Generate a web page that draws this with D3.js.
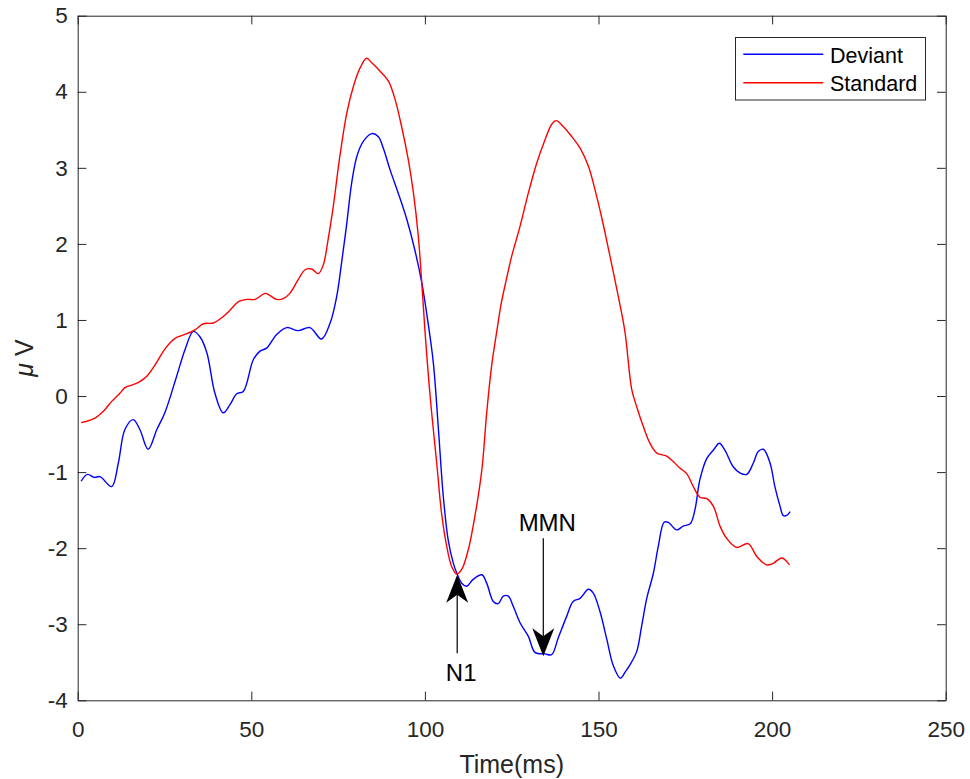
<!DOCTYPE html>
<html>
<head>
<meta charset="utf-8">
<script src="https://cdn.jsdelivr.net/npm/d3@7"></script>
<style>
  body { margin: 0; background: #fff; }
  svg { display: block; font-family: "Liberation Sans", Arial, sans-serif; }
</style>
</head>
<body>
<svg id="graph" width="970" height="779"></svg>
<script>
// Deviant (blue)
const devTime = [1.0, 2.8, 4.8, 6.4, 9.8, 11.7, 13.6, 16.0, 17.9, 20.3, 22.8, 25.1, 28.5, 30.9, 33.3, 35.2, 37.2, 39.5, 41.9, 43.9, 45.8, 47.7, 50.6, 52.5, 54.4, 57.3, 60.2, 63.5, 66.9, 70.2, 72.7, 74.6, 76.0, 77.5, 78.9, 80.4, 82.3, 84.7, 86.6, 88.0, 90.0, 92.3, 94.8, 97.1, 99.1, 100.5, 102.4, 103.9, 105.3, 106.7, 108.2, 109.2, 110.6, 112.0, 113.9, 116.4, 117.8, 119.7, 121.1, 122.6, 124.0, 125.5, 127.4, 129.8, 131.7, 134.6, 136.5, 138.4, 140.8, 142.7, 144.7, 147.1, 148.5, 150.4, 152.4, 154.3, 156.3, 157.8, 159.1, 161.0, 162.4, 163.9, 165.8, 167.2, 168.9, 170.1, 172.5, 174.4, 176.4, 177.8, 179.2, 181.2, 183.1, 184.8, 186.4, 188.8, 190.7, 192.7, 194.6, 196.0, 197.5, 199.4, 200.8, 202.3, 203.2, 204.2, 205.2];
const devValue = [-1.12, -1.03, -1.07, -1.06, -1.19, -0.88, -0.44, -0.31, -0.44, -0.70, -0.44, -0.22, 0.26, 0.61, 0.85, 0.78, 0.57, 0.04, -0.22, -0.11, 0.03, 0.06, 0.48, 0.59, 0.63, 0.81, 0.90, 0.86, 0.90, 0.75, 0.96, 1.31, 1.75, 2.27, 2.80, 3.15, 3.35, 3.45, 3.41, 3.26, 2.97, 2.67, 2.32, 1.92, 1.49, 1.09, 0.45, -0.44, -1.32, -1.89, -2.20, -2.33, -2.46, -2.50, -2.41, -2.35, -2.46, -2.70, -2.73, -2.63, -2.63, -2.77, -2.98, -3.16, -3.37, -3.39, -3.40, -3.18, -2.90, -2.70, -2.66, -2.54, -2.59, -2.83, -3.20, -3.55, -3.71, -3.62, -3.53, -3.36, -3.03, -2.66, -2.33, -1.98, -1.66, -1.66, -1.76, -1.71, -1.68, -1.49, -1.10, -0.82, -0.71, -0.62, -0.71, -0.93, -1.01, -1.03, -0.88, -0.73, -0.70, -0.88, -1.19, -1.45, -1.57, -1.57, -1.52];

// Standard (red)
const stdTime = [1.0, 5.0, 7.4, 9.8, 12.2, 13.6, 16.0, 17.9, 19.9, 22.3, 24.7, 26.6, 28.5, 30.9, 33.8, 36.2, 39.1, 41.5, 43.9, 46.3, 48.7, 51.1, 54.0, 55.4, 57.3, 59.2, 61.1, 63.5, 65.5, 67.4, 69.3, 70.7, 72.2, 73.6, 75.5, 77.5, 79.4, 81.3, 83.2, 84.7, 87.1, 89.5, 91.4, 93.3, 95.2, 96.7, 98.1, 99.1, 100.0, 101.5, 103.4, 104.8, 106.3, 107.7, 109.2, 110.6, 112.5, 114.4, 116.4, 117.8, 119.2, 120.7, 122.0, 123.4, 125.0, 127.4, 129.8, 132.2, 134.6, 136.5, 137.8, 139.9, 142.3, 144.7, 147.1, 149.0, 150.9, 153.3, 155.7, 157.6, 159.6, 161.0, 162.9, 164.8, 166.8, 169.6, 171.5, 173.5, 175.4, 177.3, 179.2, 181.2, 183.1, 185.0, 186.9, 189.8, 193.1, 195.6, 198.4, 200.3, 202.8, 205.0];
const stdValue = [-0.35, -0.29, -0.20, -0.07, 0.04, 0.11, 0.15, 0.19, 0.26, 0.41, 0.59, 0.70, 0.77, 0.81, 0.87, 0.95, 0.96, 1.03, 1.13, 1.24, 1.27, 1.27, 1.35, 1.32, 1.27, 1.28, 1.35, 1.53, 1.66, 1.67, 1.61, 1.72, 2.08, 2.49, 3.15, 3.72, 4.07, 4.31, 4.44, 4.38, 4.27, 4.14, 3.90, 3.54, 3.11, 2.67, 2.10, 1.49, 0.87, 0.00, -0.88, -1.54, -1.98, -2.24, -2.34, -2.28, -2.02, -1.58, -0.97, -0.22, 0.39, 0.85, 1.22, 1.52, 1.84, 2.23, 2.67, 3.06, 3.37, 3.57, 3.62, 3.54, 3.41, 3.26, 3.02, 2.71, 2.35, 1.84, 1.31, 0.85, 0.08, -0.14, -0.40, -0.62, -0.75, -0.79, -0.86, -0.95, -1.02, -1.19, -1.33, -1.35, -1.45, -1.71, -1.87, -1.99, -1.94, -2.11, -2.22, -2.20, -2.13, -2.22];

const xTicks = [0, 50, 100, 150, 200, 250];
const yTicks = [-4, -3, -2, -1, 0, 1, 2, 3, 4, 5];

// annotation arrows: time, tail value, tip value
const notes = [
  { label: "N1", t: 109.3, from: -3.38, to: -2.35 },
  { label: "MMN", t: 134.1, from: -1.87, to: -3.42 }
];

const axisColor = "#262626";
const margin = { top: 15.7, right: 24.3, bottom: 78.7, left: 77.7 };
const width = 970, height = 779;
const tick = 8.7;

const x = d3.scaleLinear().domain([0, 250]).range([margin.left, width - margin.right]);
const y = d3.scaleLinear().domain([-4, 5]).range([height - margin.bottom, margin.top]);

const svg = d3.select("#graph");

// axes (MATLAB box with inward ticks)
const styleAxis = (g) => {
  g.select(".domain").attr("stroke", axisColor).attr("stroke-width", 1);
  g.selectAll(".tick line").attr("stroke", axisColor);
  g.selectAll(".tick text").attr("fill", axisColor).attr("font-size", 22.5);
};
const plain = (d) => String(d);

svg.append("g")
  .attr("transform", `translate(0,${y(-4)})`)
  .call(d3.axisBottom(x).tickValues(xTicks).tickSizeInner(-tick).tickSizeOuter(0).tickPadding(21).tickFormat(plain))
  .call(styleAxis);

svg.append("g")
  .attr("transform", `translate(0,${y(5)})`)
  .call(d3.axisTop(x).tickValues(xTicks).tickSizeInner(-tick).tickSizeOuter(0).tickFormat(""))
  .call(styleAxis);

svg.append("g")
  .attr("transform", `translate(${x(0)},0)`)
  .call(d3.axisLeft(y).tickValues(yTicks).tickSizeInner(-tick).tickSizeOuter(0).tickPadding(10).tickFormat(plain))
  .call(styleAxis);

svg.append("g")
  .attr("transform", `translate(${x(250)},0)`)
  .call(d3.axisRight(y).tickValues(yTicks).tickSizeInner(-tick).tickSizeOuter(0).tickFormat(""))
  .call(styleAxis);

// axis labels
svg.append("text")
  .attr("x", (x(0) + x(250)) / 2)
  .attr("y", 773)
  .attr("text-anchor", "middle")
  .attr("font-size", 25)
  .attr("fill", axisColor)
  .text("Time(ms)");

const yl = svg.append("text")
  .attr("transform", `translate(33,${(y(5) + y(-4)) / 2}) rotate(-90)`)
  .attr("text-anchor", "middle")
  .attr("font-size", 25)
  .attr("fill", axisColor);
yl.append("tspan").attr("font-style", "italic").text("\u03bc");
yl.append("tspan").text(" V");

// lines
const line = d3.line()
  .x((d) => x(d[0]))
  .y((d) => y(d[1]))
  .curve(d3.curveCatmullRom.alpha(0.5));

const series = [
  { name: "Deviant", color: "#0000ff", pts: d3.zip(devTime, devValue) },
  { name: "Standard", color: "#ff0000", pts: d3.zip(stdTime, stdValue) }
];

svg.append("g")
  .selectAll("path")
  .data(series)
  .join("path")
  .attr("fill", "none")
  .attr("stroke", (d) => d.color)
  .attr("stroke-width", 1.4)
  .attr("d", (d) => line(d.pts));

// annotations
const headLen = 28, headHalf = 11, notch = 8;
const ann = svg.append("g");
notes.forEach((n) => {
  const ax = x(n.t), y0 = y(n.from), y1 = y(n.to);
  const dir = y1 < y0 ? -1 : 1; // -1 pointing up
  ann.append("line")
    .attr("x1", ax).attr("x2", ax)
    .attr("y1", y0).attr("y2", y1 - dir * (headLen - notch))
    .attr("stroke", "#000").attr("stroke-width", 1.2);
  const back = y1 - dir * headLen;
  ann.append("path")
    .attr("fill", "#000")
    .attr("d", `M${ax},${y1} L${ax + headHalf},${back} L${ax},${back + dir * notch} L${ax - headHalf},${back} Z`);
  ann.append("text")
    .attr("x", ax + 4)
    .attr("y", dir < 0 ? y0 + 28 : y0 - 7)
    .attr("text-anchor", "middle")
    .attr("font-size", 24)
    .attr("fill", "#000")
    .text(n.label);
});

// legend
const lg = svg.append("g");
lg.append("rect")
  .attr("x", 735.5).attr("y", 37.5)
  .attr("width", 190).attr("height", 62.5)
  .attr("fill", "#fff").attr("stroke", axisColor).attr("stroke-width", 1);
series.forEach((s, i) => {
  const ly = 54.3 + i * 28.4;
  lg.append("line")
    .attr("x1", 743.3).attr("x2", 823.3)
    .attr("y1", ly).attr("y2", ly)
    .attr("stroke", s.color).attr("stroke-width", 1.4);
  lg.append("text")
    .attr("x", 830).attr("y", ly + 8.5)
    .attr("font-size", 21.5)
    .attr("fill", "#000")
    .text(s.name);
});
</script>
</body>
</html>
